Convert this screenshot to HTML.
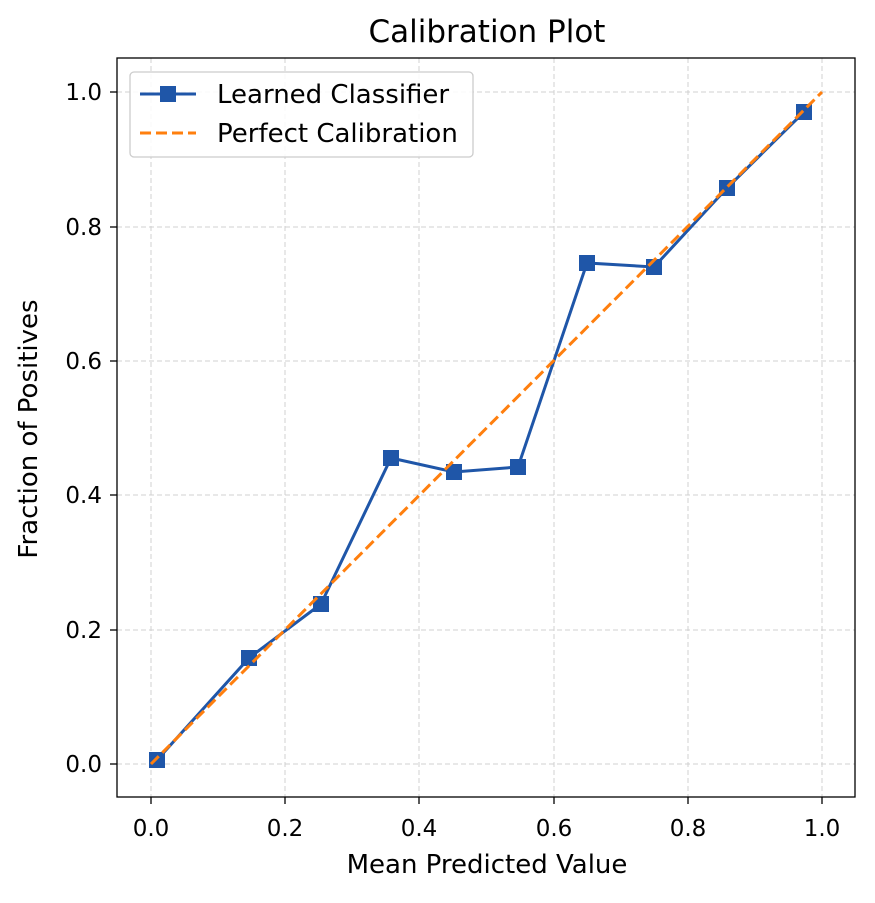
<!DOCTYPE html>
<html><head><style>body{margin:0;background:#fff}</style></head><body>
<svg width="875" height="898" xmlns="http://www.w3.org/2000/svg" font-family="DejaVu Sans, Liberation Sans, sans-serif">
<rect width="875" height="898" fill="#fff"/>
<g stroke="#d0d0d0" stroke-width="1" stroke-dasharray="5,3">
<line x1="151" y1="58" x2="151" y2="797"/><line x1="285" y1="58" x2="285" y2="797"/><line x1="419" y1="58" x2="419" y2="797"/><line x1="554" y1="58" x2="554" y2="797"/><line x1="688" y1="58" x2="688" y2="797"/><line x1="822" y1="58" x2="822" y2="797"/>
<line x1="117" y1="764" x2="855" y2="764"/><line x1="117" y1="630" x2="855" y2="630"/><line x1="117" y1="495" x2="855" y2="495"/><line x1="117" y1="361" x2="855" y2="361"/><line x1="117" y1="227" x2="855" y2="227"/><line x1="117" y1="92" x2="855" y2="92"/>
</g>
<polyline points="157,760 249,658 321,604 391,458 454,472 518,467 587,263 654,267 727,188 804,112" fill="none" stroke="#1f56a8" stroke-width="3"/>
<g fill="#1f56a8">
<rect x="149" y="752" width="16" height="16"/><rect x="241" y="650" width="16" height="16"/><rect x="313" y="596" width="16" height="16"/><rect x="383" y="450" width="16" height="16"/><rect x="446" y="464" width="16" height="16"/><rect x="510" y="459" width="16" height="16"/><rect x="579" y="255" width="16" height="16"/><rect x="646" y="259" width="16" height="16"/><rect x="719" y="180" width="16" height="16"/><rect x="796" y="104" width="16" height="16"/>
</g>
<line x1="151" y1="764" x2="822" y2="92" stroke="#ff7f0e" stroke-width="3" stroke-dasharray="11,5"/>
<rect x="117" y="58" width="738" height="739" fill="none" stroke="#000" stroke-width="1.3"/>
<g stroke="#000" stroke-width="1.3">
<line x1="151" y1="797" x2="151" y2="804"/><line x1="285" y1="797" x2="285" y2="804"/><line x1="419" y1="797" x2="419" y2="804"/><line x1="554" y1="797" x2="554" y2="804"/><line x1="688" y1="797" x2="688" y2="804"/><line x1="822" y1="797" x2="822" y2="804"/>
<line x1="110" y1="764" x2="117" y2="764"/><line x1="110" y1="630" x2="117" y2="630"/><line x1="110" y1="495" x2="117" y2="495"/><line x1="110" y1="361" x2="117" y2="361"/><line x1="110" y1="227" x2="117" y2="227"/><line x1="110" y1="92" x2="117" y2="92"/>
</g>
<g font-size="23" fill="#000" text-anchor="middle">
<text x="151" y="836">0.0</text><text x="285" y="836">0.2</text><text x="419" y="836">0.4</text><text x="554" y="836">0.6</text><text x="688" y="836">0.8</text><text x="822" y="836">1.0</text>
</g>
<g font-size="23" fill="#000" text-anchor="end">
<text x="102" y="772">0.0</text><text x="102" y="638">0.2</text><text x="102" y="503">0.4</text><text x="102" y="369">0.6</text><text x="102" y="235">0.8</text><text x="102" y="100">1.0</text>
</g>
<text x="487" y="873" font-size="26" text-anchor="middle">Mean Predicted Value</text>
<text x="37" y="429" font-size="26" text-anchor="middle" transform="rotate(-90 37 429)">Fraction of Positives</text>
<text x="487" y="42" font-size="31" text-anchor="middle">Calibration Plot</text>
<rect x="130" y="72" width="343" height="85" rx="4" fill="#fff" fill-opacity="0.85" stroke="#ccc" stroke-width="1.3"/>
<line x1="140" y1="94" x2="196" y2="94" stroke="#1f56a8" stroke-width="3"/>
<rect x="160" y="86" width="16" height="16" fill="#1f56a8"/>
<line x1="140" y1="133" x2="196" y2="133" stroke="#ff7f0e" stroke-width="3" stroke-dasharray="11,5"/>
<text x="217" y="103" font-size="26">Learned Classifier</text>
<text x="217" y="142" font-size="26">Perfect Calibration</text>
</svg>
</body></html>
